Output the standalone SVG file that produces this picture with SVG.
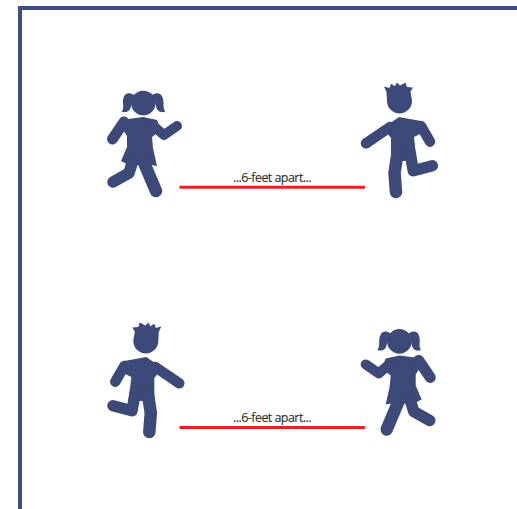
<svg xmlns="http://www.w3.org/2000/svg" width="517" height="509" viewBox="0 0 517 509">
<style>
.f{fill:#3c4a78}
.l{fill:none;stroke:#3c4a78;stroke-linecap:round;stroke-linejoin:round}
.r{fill:none;stroke:#ee1c25;stroke-width:3}
text{font-family:"Open Sans","Liberation Sans",sans-serif;font-size:12.5px;fill:#333;text-anchor:middle;letter-spacing:-.55px;stroke:#333;stroke-width:.15px}
</style>
<defs>
<filter id="b" x="-10%" y="-10%" width="120%" height="120%"><feGaussianBlur stdDeviation="0.5"/></filter>
<g id="girl" filter="url(#b)">
<circle class="f" cx="143.300" cy="103" r="12.300"/>
<path class="f" d="M134 95C126 90 122.500 96 123 103C123.500 108 123 110 121.500 111.500C126 113.500 130.500 111 131 106C131.500 103 132 102 134 102ZM152 95C160 90 163.500 96 163.500 103C163.500 108 164 110 165.500 111.500C161 113.500 156.500 111 156 106C155.500 103 155 102 153 102Z"/>
<path class="f" d="M118 122L128 119L143 117L157 120L161 130L152 137L153 148L157 166L146 164L131 166L121 161L127 147L127 136Z"/>
<path class="l" stroke-width="11" d="M124 122L112.500 139"/>
<path class="l" stroke-width="10" d="M151 124L164 135L177 126"/>
<path class="l" stroke-width="11.500" d="M133 160L129 173L113 182"/>
<path class="l" stroke-width="12.500" d="M142 158L156 191"/>
</g>
<g id="boy" filter="url(#b)">
<path class="f" d="M384 86.500L389.500 88L391 83.800L395 86.300L396.700 82.500L400 85.500L405.500 82.500L407 87L413 87.500L410.500 91.500L412 101A12.500 12.500 0 0 1 387 101L386.500 92Z"/>
<path class="f" d="M383 128L399 117L421 121L428 130L414 137L416.500 160L404 161L391 160L391 138Z"/>
<path class="l" stroke-width="10.500" d="M390 127L366 143.300"/>
<path class="l" stroke-width="10.500" d="M421 126L430 141.700"/>
<path class="l" stroke-width="12.500" d="M398 150L394.500 173L396 192"/>
<path class="l" stroke-width="11.500" d="M410 152L413.300 170.700L432.300 165.700"/>
</g>
</defs>
<path d="M20 509V8H517" fill="none" stroke="#3f4e80" stroke-width="4"/>
<g id="girl-top"><use href="#girl"/></g>
<g id="boy-top"><use href="#boy"/></g>
<g id="boy-bottom"><use href="#boy" transform="translate(545.300 240) scale(-1 1)"/></g>
<g id="girl-bottom"><use href="#girl" transform="translate(542.700 238.400) scale(-1 1)"/></g>
<g id="connectors">
<path class="r" d="M179.500 187.300H365"/>
<path class="r" d="M179.500 427.500H365"/>
</g>
<g id="labels">
<text x="272" y="181.500">...6-feet apart...</text>
<text x="272" y="421.500">...6-feet apart...</text>
</g>
</svg>
